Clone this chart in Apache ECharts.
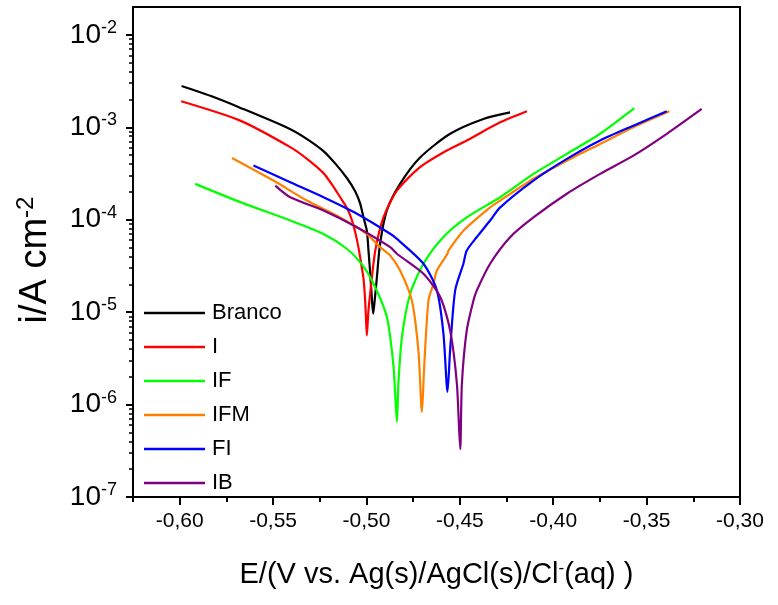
<!DOCTYPE html>
<html><head><meta charset="utf-8">
<script src="https://cdn.jsdelivr.net/npm/echarts@6/dist/echarts.min.js"></script>
<style>html,body{margin:0;padding:0;background:#fff}#c{width:778px;height:605px}</style>
</head><body><div id="c"></div>
<script>
// ---- data (E in V, i in A cm^-2) ----
const brancoE = [-0.599, -0.5836, -0.568, -0.541, -0.532, -0.523, -0.5162, -0.5103, -0.5060, -0.5034, -0.5016, -0.4998, -0.4989, -0.4978, -0.4970, -0.4964, -0.4955, -0.4944, -0.4927, -0.4891, -0.482, -0.4713, -0.4552, -0.4374, -0.4231];
const brancoI = [2.8e-3, 2.19e-3, 1.64e-3, 9.6e-4, 7.5e-4, 5.52e-4, 3.94e-4, 2.79e-4, 2.02e-4, 1.5e-4, 1.06e-4, 7.6e-5, 4.6e-5, 2.3e-5, 1.3e-5, 9.6e-6, 1.4e-5, 2.4e-5, 5.5e-5, 1.26e-4, 2.44e-4, 4.7e-4, 8.5e-4, 1.23e-3, 1.45e-3];

const iE = [-0.5992, -0.5676, -0.5408, -0.5317, -0.523, -0.5178, -0.5141, -0.5103, -0.5076, -0.5055, -0.5039, -0.5026, -0.5016, -0.5007, -0.5002, -0.4998, -0.4990, -0.4980, -0.4953, -0.4909, -0.4837, -0.4713, -0.457, -0.4463, -0.4284, -0.4141];
const iI = [1.91e-3, 1.18e-3, 6.1e-4, 4.53e-4, 3.19e-4, 2.29e-4, 1.75e-4, 1.32e-4, 9.6e-5, 6.6e-5, 4.54e-5, 3.13e-5, 2.32e-5, 1.34e-5, 8.1e-6, 5.6e-6, 1.0e-5, 1.6e-5, 4.6e-5, 1.06e-4, 2.06e-4, 3.7e-4, 5.6e-4, 7.2e-4, 1.13e-3, 1.49e-3];

const ifE = [-0.5917, -0.5676, -0.5408, -0.523, -0.5105, -0.5025, -0.4962, -0.4891, -0.4855, -0.4837, -0.4829, -0.481, -0.4766, -0.4695, -0.4588, -0.4463, -0.4284, -0.4106, -0.3927, -0.3749, -0.3566];
const ifI = [2.44e-4, 1.55e-4, 9.8e-5, 7.0e-5, 4.85e-5, 3.3e-5, 2.03e-5, 8.9e-6, 2.55e-6, 6.5e-7, 1.69e-6, 5.4e-6, 1.58e-5, 3.34e-5, 6.5e-5, 1.06e-4, 1.75e-4, 3.13e-4, 5.15e-4, 8.5e-4, 1.61e-3];

const ifmE = [-0.572, -0.5498, -0.5319, -0.5141, -0.4998, -0.4927, -0.4873, -0.482, -0.4757, -0.4722, -0.4703, -0.4691, -0.4668, -0.4641, -0.4623, -0.4566, -0.4561, -0.4481, -0.4338, -0.4284, -0.4106, -0.3927, -0.3749, -0.3571, -0.3378];
const ifmI = [4.66e-4, 2.65e-4, 1.61e-4, 1.06e-4, 7.0e-5, 5.05e-5, 4.1e-5, 2.82e-5, 1.34e-5, 3.86e-6, 8.3e-7, 2.55e-6, 1.34e-5, 2.03e-5, 2.82e-5, 4.3e-5, 4.64e-5, 7.6e-5, 1.36e-4, 1.61e-4, 2.77e-4, 4.35e-4, 6.6e-4, 1.0e-3, 1.49e-3];

const fiE = [-0.5605, -0.5408, -0.523, -0.5051, -0.4873, -0.4837, -0.4695, -0.4623, -0.4588, -0.4566, -0.4552, -0.4525, -0.4481, -0.4463, -0.4409, -0.4338, -0.4284, -0.4106, -0.3927, -0.3749, -0.3571, -0.3392];
const fiI = [3.85e-4, 2.54e-4, 1.75e-4, 1.16e-4, 7.05e-5, 6.2e-5, 3.34e-5, 1.72e-5, 5.9e-6, 1.37e-6, 3.9e-6, 1.72e-5, 3.34e-5, 4.64e-5, 6.5e-5, 9.8e-5, 1.36e-4, 2.65e-4, 4.55e-4, 7.2e-4, 1.04e-3, 1.49e-3];

const ibE = [-0.5488, -0.5408, -0.523, -0.5051, -0.4873, -0.4837, -0.4695, -0.4605, -0.4552, -0.4516, -0.4498, -0.4489, -0.4463, -0.4427, -0.4409, -0.4338, -0.4231, -0.4106, -0.3927, -0.3749, -0.3571, -0.3392, -0.3205];
const ibI = [2.34e-4, 1.75e-4, 1.26e-4, 8.3e-5, 5.05e-5, 4.28e-5, 2.6e-5, 1.46e-5, 6.35e-6, 1.69e-6, 3.3e-7, 1.69e-6, 6.35e-6, 1.34e-5, 1.72e-5, 3.34e-5, 6.47e-5, 1.06e-4, 1.91e-4, 3.13e-4, 4.93e-4, 8.5e-4, 1.58e-3];

const seriesNames = ['Branco', 'I', 'IF', 'IFM', 'FI', 'IB'];
const seriesColors = ['#000000', '#ff0000', '#00ff00', '#ff8000', '#0000ff', '#800080'];

// ---- tick values ----
const xMajorTicks = [-0.60, -0.55, -0.50, -0.45, -0.40, -0.35, -0.30];
const xMinorTicks = [-0.625, -0.575, -0.525, -0.475, -0.425, -0.375, -0.325];
const yDecadeExps = [-7, -6, -5, -4, -3, -2];
const yMinorMults = [2, 3, 4, 5, 6, 7, 8, 9];

const yMajorTicks = yDecadeExps.map(e => Math.pow(10, e));
const yMinorTicks = [];
yDecadeExps.forEach(e => yMinorMults.forEach(m => { const v = m * Math.pow(10, e); if (v < 0.02) yMinorTicks.push(v); }));

const pairs = (xs, ys) => xs.map((x, k) => [x, ys[k]]);
const allData = [pairs(brancoE, brancoI), pairs(iE, iI), pairs(ifE, ifI), pairs(ifmE, ifmI), pairs(fiE, fiI), pairs(ibE, ibI)];

const FONT = 'Liberation Sans, Arial, sans-serif';
const X_MIN = -0.625, X_MAX = -0.30, Y_MIN = 1e-7, Y_MAX = 0.02;

const chart = echarts.init(document.getElementById('c'), null, {renderer: 'canvas'});
chart.setOption({
  animation: false,
  backgroundColor: '#fff',
  grid: {left: 133, right: 38, top: 7, bottom: 108, show: true, borderColor: '#000', borderWidth: 2, containLabel: false},
  legend: {
    data: seriesNames, orient: 'vertical', left: 139, top: 297, itemGap: 12,
    icon: 'rect', itemWidth: 61, itemHeight: 2.5,
    textStyle: {fontFamily: FONT, fontSize: 22, color: '#000', padding: [0, 0, 0, 2]}
  },
  xAxis: [{
    type: 'value', min: X_MIN, max: X_MAX, position: 'bottom',
    axisLine: {show: true, onZero: false, lineStyle: {color: '#000', width: 2}},
    axisTick: {show: true, inside: false, length: 8, customValues: xMajorTicks, lineStyle: {color: '#000', width: 2}},
    axisLabel: {customValues: xMajorTicks, margin: 14, color: '#000', fontFamily: FONT, fontSize: 21,
      formatter: v => v.toFixed(2).replace('.', ',')},
    splitLine: {show: false},
    name: 'E/(V vs. Ag(s)/AgCl(s)/Cl{s|-}(aq) )', nameLocation: 'middle', nameGap: 63,
    nameTextStyle: {fontFamily: FONT, fontSize: 29, color: '#000', rich: {s: {fontFamily: FONT, fontSize: 17, verticalAlign: 'top', padding: [0, 0, 12, 0]}}}
  }, {
    type: 'value', min: X_MIN, max: X_MAX, position: 'bottom',
    axisLine: {show: false}, axisLabel: {show: false}, splitLine: {show: false},
    axisTick: {show: true, inside: false, length: 5, customValues: xMinorTicks, lineStyle: {color: '#000', width: 2}}
  }],
  yAxis: [{
    type: 'log', logBase: 10, min: Y_MIN, max: Y_MAX, position: 'left',
    axisLine: {show: true, onZero: false, lineStyle: {color: '#000', width: 2}},
    axisTick: {show: true, inside: false, length: 7, customValues: yMajorTicks, lineStyle: {color: '#000', width: 2}},
    axisLabel: {customValues: yMajorTicks, margin: 16, color: '#000', fontFamily: FONT,
      formatter: v => '{b|10}{s|' + Math.round(Math.log10(v)) + '}',
      rich: {b: {fontFamily: FONT, fontSize: 28, color: '#000'}, s: {fontFamily: FONT, fontSize: 18, color: '#000', verticalAlign: 'top', padding: [0, 0, 14, 0]}}},
    splitLine: {show: false},
    name: '{a|i/A cm}{s|-2}', nameLocation: 'middle', nameGap: 75, nameRotate: 90,
    nameTextStyle: {padding: [0, 16, 0, 0], rich: {a: {fontFamily: FONT, fontSize: 38, color: '#000'}, s: {fontFamily: FONT, fontSize: 24, color: '#000', verticalAlign: 'top', padding: [0, 0, 20, 0]}}}
  }, {
    type: 'log', logBase: 10, min: Y_MIN, max: Y_MAX, position: 'left',
    axisLine: {show: false}, axisLabel: {show: false}, splitLine: {show: false},
    axisTick: {show: true, inside: false, length: 4, customValues: yMinorTicks, lineStyle: {color: '#000', width: 1.5}}
  }],
  series: seriesNames.map((n, k) => ({
    name: n, type: 'line', xAxisIndex: 0, yAxisIndex: 0, data: allData[k],
    showSymbol: false, symbol: 'none', smooth: 0.25, clip: true,
    lineStyle: {color: seriesColors[k], width: 2.2}, itemStyle: {color: seriesColors[k]}
  }))
});
</script>
</body></html>
